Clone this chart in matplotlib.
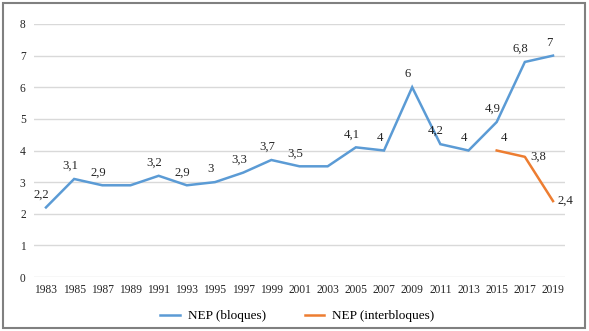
import matplotlib
matplotlib.use("Agg")
import matplotlib.pyplot as plt
from matplotlib.patches import Rectangle

years = [1983, 1985, 1987, 1989, 1991, 1993, 1995, 1997, 1999, 2001,
         2003, 2005, 2007, 2009, 2011, 2013, 2015, 2017, 2019]
nep_bloques = [2.2, 3.1, 2.9, 2.9, 3.2, 2.9, 3.0, 3.3, 3.7, 3.5,
               3.5, 4.1, 4.0, 6.0, 4.2, 4.0, 4.9, 6.8, 7.0]
bloques_labels = ["2,2", "3,1", "2,9", "", "3,2", "2,9", "3", "3,3", "3,7", "3,5",
                  "", "4,1", "4", "6", "4,2", "4", "4,9", "6,8", "7"]
years_inter = [2015, 2017, 2019]
nep_interbloques = [4.0, 3.8, 2.4]
inter_labels = ["4", "3,8", "2,4"]
yticks = [0, 1, 2, 3, 4, 5, 6, 7, 8]

plt.rcParams['font.family'] = ['Liberation Serif', 'DejaVu Serif']

W, H = 589, 331
fig = plt.figure(figsize=(W / 100, H / 100), dpi=100)
ax = fig.add_axes([34 / W, 1 - 277 / H, (565 - 34) / W, (277 - 24) / H])

blue = '#5B9BD5'
orange = '#ED7D31'

ax.plot(years, nep_bloques, color=blue, lw=1.8, label='NEP (bloques)', solid_joinstyle='miter')
ax.plot(years_inter, nep_interbloques, color=orange, lw=1.8, label='NEP (interbloques)')

for x, y, t in zip(years, nep_bloques, bloques_labels):
    if t:
        ax.annotate(t, (x, y), xytext=(-3, 5), textcoords='offset points',
                    ha='center', va='bottom', fontsize=9.2, color='#262626')
offs = [(5, 5, 'center', 'bottom'), (4, 0, 'left', 'center'), (3, 0, 'left', 'center')]
for (x, y, t), (dx, dy, ha, va) in zip(zip(years_inter, nep_interbloques, inter_labels), offs):
    ax.annotate(t, (x, y), xytext=(dx, dy), textcoords='offset points',
                ha=ha, va=va, fontsize=9.2, color='#262626')

ax.set_ylim(0, 8)
ax.set_xlim(1982.15, 2019.85)
ax.set_yticks(yticks)
ax.set_xticks(years)
ax.set_xticklabels([str(y) for y in years])
ax.tick_params(axis='both', length=0, labelsize=8.3, colors='#262626')
ax.tick_params(axis='y', pad=6)
ax.tick_params(axis='x', pad=5)
ax.grid(axis='y', color='#d9d9d9', lw=1.0)
ax.set_axisbelow(True)
for s in ax.spines.values():
    s.set_visible(False)

fig.legend(loc='center', bbox_to_anchor=(297.5 / W, 1 - 316 / H), ncol=2, frameon=False,
           fontsize=9.5, handlelength=1.5, handletextpad=0.6, columnspacing=2.9)

fig.patches.append(Rectangle((3 / W, 3 / H), (585 - 3) / W, (328 - 3) / H,
                             transform=fig.transFigure, fill=False,
                             edgecolor='#808080', lw=1.5))

fig.savefig('out.png', dpi=100)
